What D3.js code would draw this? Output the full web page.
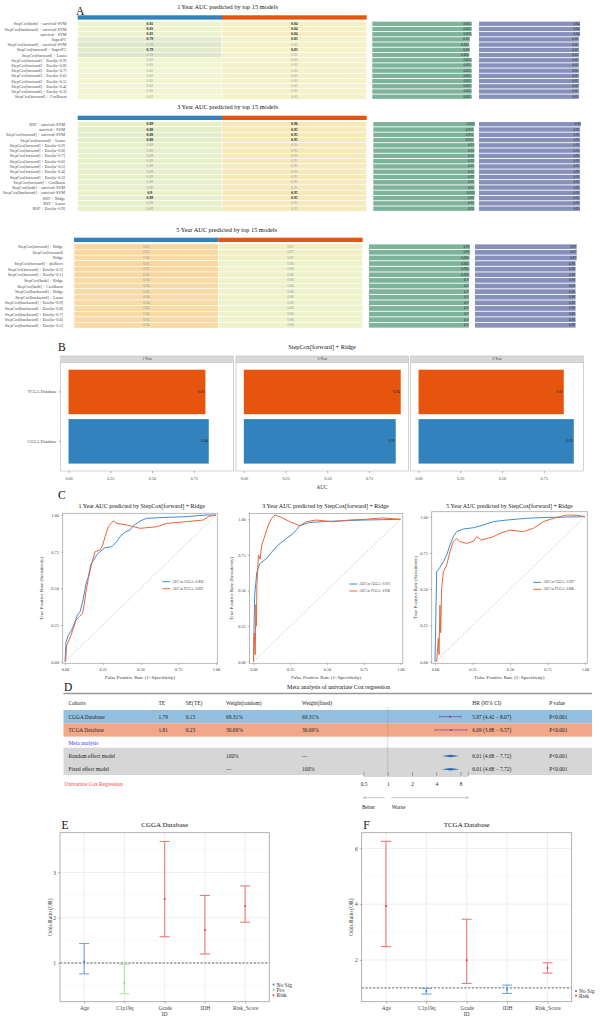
<!DOCTYPE html>
<html>
<head>
<meta charset="utf-8">
<script src="https://cdn.jsdelivr.net/npm/d3@7/dist/d3.min.js"></script>
<style>
html,body{margin:0;padding:0;background:#fff;}
svg{display:block;}
</style>
</head>
<body>
<svg id="chart" width="600" height="1019"></svg>
<script>
// ================= DATA =================
// Panel A
const models1Y = ["StepCox[both] + survival-SVM","StepCox[backward] + survival-SVM","survival - SVM","SuperPC",
  "StepCox[forward] + survival-SVM","StepCox[forward] + SuperPC","StepCox[forward] + Lasso",
  "StepCox[forward] + Enet[α=0.9]","StepCox[forward] + Enet[α=0.8]","StepCox[forward] + Enet[α=0.7]",
  "StepCox[forward] + Enet[α=0.6]","StepCox[forward] + Enet[α=0.5]","StepCox[forward] + Enet[α=0.4]",
  "StepCox[forward] + Enet[α=0.3]","StepCox[forward] + CoxBoost"];
const cgga1Y = [0.81,0.81,0.81,0.79,0.78,0.79,0.78,0.82,0.82,0.82,0.82,0.82,0.82,0.82,0.82];
const tcga1Y = [0.84,0.84,0.84,0.83,0.83,0.83,0.83,0.83,0.83,0.83,0.83,0.83,0.83,0.83,0.83];
const mean1Y = [0.825,0.825,0.825,0.81,0.805,0.81,0.805,0.825,0.825,0.825,0.825,0.825,0.825,0.825,0.825];
const bold1Y = [0,1,2,3,5];

const models3Y = ["RSF + survival-SVM","survival - SVM","StepCox[forward] + survival-SVM","StepCox[forward] + Lasso",
  "StepCox[forward] + Enet[α=0.9]","StepCox[forward] + Enet[α=0.8]","StepCox[forward] + Enet[α=0.7]",
  "StepCox[forward] + Enet[α=0.6]","StepCox[forward] + Enet[α=0.5]","StepCox[forward] + Enet[α=0.4]",
  "StepCox[forward] + Enet[α=0.3]","StepCox[forward] + CoxBoost","StepCox[both] + survival-SVM",
  "StepCox[backward] + survival-SVM","RSF + Ridge","RSF + Lasso","RSF + Enet[α=0.9]"];
const cgga3Y = [0.89,0.88,0.88,0.88,0.89,0.89,0.89,0.89,0.89,0.89,0.89,0.89,0.89,0.9,0.89,0.89,0.89];
const tcga3Y = [0.96,0.95,0.95,0.95,0.95,0.95,0.95,0.95,0.95,0.95,0.95,0.95,0.95,0.95,0.95,0.95,0.95];
const mean3Y = [0.925,0.915,0.915,0.915,0.92,0.92,0.92,0.92,0.92,0.92,0.92,0.92,0.92,0.925,0.92,0.92,0.92];
const bold3Y = [0,1,2,3,13,14];

const models5Y = ["StepCox[forward] + Ridge","StepCox[forward]","Ridge","StepCox[forward] + plsRcox",
  "StepCox[forward] + Enet[α=0.2]","StepCox[forward] + Enet[α=0.1]","StepCox[both] + Ridge",
  "StepCox[both] + CoxBoost","StepCox[backward] + Ridge","StepCox[backward] + Lasso",
  "StepCox[backward] + Enet[α=0.9]","StepCox[backward] + Enet[α=0.8]","StepCox[backward] + Enet[α=0.7]",
  "StepCox[backward] + Enet[α=0.6]","StepCox[backward] + Enet[α=0.5]"];
const cgga5Y = [0.95,0.95,0.94,0.95,0.95,0.95,0.94,0.94,0.94,0.94,0.94,0.94,0.94,0.94,0.94];
const tcga5Y = [0.87,0.87,0.87,0.86,0.86,0.86,0.86,0.86,0.86,0.86,0.86,0.86,0.86,0.86,0.86];
const mean5Y = [0.91,0.91,0.905,0.905,0.905,0.905,0.9,0.9,0.9,0.9,0.9,0.9,0.9,0.9,0.9];
const bold5Y = [];

// Panel B
const bYears = ["1-Year","3-Year","5-Year"];
const bCohorts = ["TCGA Database","CGGA Database"];
const bTCGA = [0.82,0.94,0.87];
const bCGGA = [0.84,0.91,0.93];
const bTicks = [0,0.25,0.5,0.75];

// Panel C (ROC points: [FPR, TPR])
const rocTitles = ["1 Year AUC predicted by StepCox[forward] + Ridge","3 Year AUC predicted by StepCox[forward] + Ridge","5 Year AUC predicted by StepCox[forward] + Ridge"];
const rocCGGA1 = [[0,0],[0.007,0.136],[0.022,0.18],[0.044,0.216],[0.066,0.27],[0.082,0.318],[0.1,0.34],[0.121,0.43],[0.139,0.53],[0.155,0.58],[0.17,0.66],[0.188,0.69],[0.21,0.727],[0.232,0.75],[0.265,0.777],[0.31,0.784],[0.342,0.818],[0.364,0.852],[0.397,0.882],[0.43,0.898],[0.453,0.927],[0.497,0.959],[0.54,0.977],[0.63,0.982],[0.806,0.989],[0.94,1],[1,1]];
const rocTCGA1 = [[0.004,0],[0.011,0.114],[0.022,0.136],[0.04,0.18],[0.055,0.227],[0.073,0.284],[0.095,0.307],[0.117,0.33],[0.126,0.386],[0.139,0.477],[0.155,0.568],[0.177,0.67],[0.199,0.75],[0.232,0.76],[0.25,0.795],[0.265,0.852],[0.287,0.92],[0.32,0.961],[0.342,0.943],[0.408,0.932],[0.497,0.909],[0.607,0.92],[0.673,0.943],[0.806,0.955],[0.916,0.966],[0.949,0.989],[1,1]];
const rocCGGA3 = [[0,0],[0.003,0.2],[0.008,0.468],[0.023,0.63],[0.045,0.69],[0.09,0.726],[0.124,0.77],[0.168,0.82],[0.225,0.866],[0.27,0.9],[0.315,0.955],[0.382,0.978],[0.539,0.987],[0.764,0.995],[1,1]];
const rocTCGA3 = [[0,0],[0.005,0.2],[0.012,0.05],[0.016,0.4],[0.02,0.25],[0.023,0.54],[0.034,0.75],[0.045,0.72],[0.056,0.82],[0.079,0.89],[0.101,0.96],[0.124,1.007],[0.146,1.03],[0.18,1.018],[0.247,0.983],[0.315,0.955],[0.36,0.983],[0.427,0.995],[0.539,0.983],[0.652,0.995],[0.764,1],[0.876,1.01],[1,1]];
const rocCGGA5 = [[0,0],[0.002,0.115],[0.007,0.39],[0.011,0.62],[0.029,0.644],[0.056,0.69],[0.078,0.736],[0.1,0.805],[0.122,0.862],[0.144,0.897],[0.189,0.915],[0.256,0.924],[0.322,0.943],[0.389,0.966],[0.478,0.977],[0.611,0.989],[0.744,0.995],[1,1]];
const rocTCGA5 = [[0.011,0],[0.022,0.16],[0.027,0.05],[0.033,0.39],[0.038,0.2],[0.044,0.5],[0.056,0.62],[0.078,0.667],[0.1,0.76],[0.122,0.828],[0.144,0.85],[0.167,0.828],[0.211,0.816],[0.256,0.83],[0.278,0.862],[0.311,0.839],[0.389,0.862],[0.433,0.885],[0.5,0.908],[0.589,0.897],[0.656,0.92],[0.722,0.966],[0.789,0.989],[0.878,1.011],[0.944,1.01],[1,1]];
const rocAUC_CGGA = ["0.836","0.911","0.927"];
const rocAUC_TCGA = ["0.823","0.936","0.866"];
const rocTicks = [0,0.25,0.5,0.75,1];

// Panel D
const dCols = ["Cohorts","TE","SE(TE)","Weight(random)","Weight(fixed)","HR (95% CI)","P value"];
const dCohorts = ["CGGA Database","TCGA Database"];
const dTE = ["1.79","1.81"];
const dSE = ["0.15","0.23"];
const dWRandom = ["69.31%","30.69%"];
const dWFixed = ["69.31%","30.69%"];
const dHR = [5.97,6.09];
const dLower = [4.42,3.88];
const dUpper = [8.07,9.57];
const dP = ["P<0.001","P<0.001"];
const dModels = ["Random effect model","Fixed effect model"];
const dModelWR = ["100%","—"];
const dModelWF = ["—","100%"];
const dModelHR = [6.01,6.01];
const dModelLo = [4.68,4.68];
const dModelHi = [7.72,7.72];
const dTicks = [0.5,1,2,4,8];

// Panels E / F
const orVars = ["Age","C1p19q","Grade","IDH","Risk_Score"];
const eOR = [1.03,0.56,2.41,1.73,2.26];
const eLow = [0.76,0.32,1.58,1.2,1.9];
const eHigh = [1.43,0.97,3.68,2.49,2.7];
const eGroup = ["No Sig","Pro","Risk","Risk","Risk"];
const fOR = [3.94,0.89,1.99,0.95,1.71];
const fLow = [2.48,0.78,1.16,0.8,1.53];
const fHigh = [6.25,0.98,3.46,1.1,1.9];
const fGroup = ["Risk","No Sig","Risk","No Sig","Risk"];

// ================= DRAWING =================
const SERIF = '"Liberation Serif","Times New Roman",Times,serif';
const svg = d3.select("#chart").attr("font-family", SERIF);

function T(g, x, y, s, size, o = {}) {
  const t = g.append("text").attr("x", x).attr("y", y).text(s)
    .attr("font-size", size).attr("text-anchor", o.anchor || "start")
    .attr("dominant-baseline", "central").attr("fill", o.fill || "#222");
  if (o.weight) t.attr("font-weight", o.weight);
  if (o.rotate) t.attr("transform", `rotate(${o.rotate},${x},${y})`);
  return t;
}

// ---------- Panel A ----------
T(svg, 76, 11, "A", 11.5, {fill:"#111"});
function heatPanel(c) {
  const g = svg.append("g");
  const n = c.labels.length;
  const y = d3.scaleBand().domain(d3.range(n)).range([c.top, c.bottom]);
  const bw = y.bandwidth();
  T(g, c.titleX, c.titleY, c.title, 6.3, {anchor:"middle", fill:"#111"});
  const hx = c.hx;
  g.append("rect").attr("x", hx[0]).attr("y", c.headY).attr("width", hx[1]-hx[0]).attr("height", 4.3).attr("fill", "#3182bd");
  g.append("rect").attr("x", hx[1]).attr("y", c.headY).attr("width", hx[2]-hx[1]).attr("height", 4.3).attr("fill", "#e6550d");
  [c.cgga, c.tcga].forEach((vals, ci) => {
    g.append("g").selectAll("rect").data(vals).join("rect")
      .attr("x", hx[ci]).attr("y", (d,i) => y(i)).attr("width", hx[ci+1]-hx[ci]).attr("height", bw)
      .attr("fill", d => c.color(d)).attr("stroke", "#fff").attr("stroke-width", 0.5);
    g.append("g").selectAll("text").data(vals).join("text")
      .attr("x", (hx[ci]+hx[ci+1])/2).attr("y", (d,i) => y(i)+bw/2)
      .attr("text-anchor","middle").attr("dominant-baseline","central")
      .attr("font-size", 3.7)
      .attr("fill", (d,i) => c.bold.includes(i) ? "#222" : "#999")
      .attr("font-weight", (d,i) => c.bold.includes(i) ? "bold" : "normal")
      .text(d => String(d));
  });
  g.append("g").selectAll("text").data(c.labels).join("text")
    .attr("x", c.labelX).attr("y", (d,i) => y(i)+bw/2)
    .attr("text-anchor","end").attr("dominant-baseline","central")
    .attr("font-size", 4.2).attr("fill", "#444").text(d => d);
  // green bars (mean) and purple bars (TCGA)
  [[c.mean, c.gx, "#7db29b"], [c.tcga, c.px, "#8790ba"]].forEach(([vals, rx, col]) => {
    const xs = d3.scaleLinear().domain([0, d3.max(vals)]).range(rx);
    g.append("g").selectAll("rect").data(vals).join("rect")
      .attr("x", rx[0]).attr("y", (d,i) => y(i)+0.45).attr("width", d => xs(d)-rx[0])
      .attr("height", bw-0.9).attr("fill", col);
    g.append("g").selectAll("text").data(vals).join("text")
      .attr("x", d => xs(d)-0.4).attr("y", (d,i) => y(i)+bw/2)
      .attr("text-anchor","end").attr("dominant-baseline","central")
      .attr("font-size", 3.5).attr("fill", "#2a2a2a").text(d => String(d));
  });
}
heatPanel({labels:models1Y, cgga:cgga1Y, tcga:tcga1Y, mean:mean1Y, bold:bold1Y,
  title:"1 Year AUC predicted by top 15 models", titleX:227.5, titleY:6.5, headY:15.3,
  top:21.2, bottom:99.3, labelX:66.5, hx:[77.7,222,366.7], gx:[372.3,471.7], px:[479,580],
  color:d3.scaleLinear().domain([0.78,0.82,0.84]).range(["#dfe7cb","#f1f5d1","#f7efc3"])});
heatPanel({labels:models3Y, cgga:cgga3Y, tcga:tcga3Y, mean:mean3Y, bold:bold3Y,
  title:"3 Year AUC predicted by top 15 models", titleX:227.5, titleY:106.7, headY:115.7,
  top:121.6, bottom:211.3, labelX:65, hx:[77.7,222,366.7], gx:[373.3,475], px:[479,581],
  color:d3.scaleLinear().domain([0.88,0.92,0.96]).range(["#e3edca","#f1f3cc","#f7e7b5"])});
heatPanel({labels:models5Y, cgga:cgga5Y, tcga:tcga5Y, mean:mean5Y, bold:bold5Y,
  title:"5 Year AUC predicted by top 15 models", titleX:226.7, titleY:229.3, headY:237.7,
  top:243.9, bottom:328.1, labelX:63, hx:[74,218.3,362.7], gx:[369,470], px:[475,576.7],
  color:d3.scaleLinear().domain([0.86,0.95]).range(["#eef3cb","#f8d7a1"])});

// ---------- Panel B ----------
{
  const g = svg.append("g");
  T(g, 58, 347, "B", 11.5, {fill:"#111"});
  T(g, 322, 346.7, "StepCox[forward] + Ridge", 6.3, {anchor:"middle", fill:"#111"});
  const facetX = [60.7, 236, 410.7], fw = 172.6, stripY = 356, pTop = 362.3, pBot = 471;
  const yb = d3.scaleBand().domain(bCohorts).range([pTop, pBot]).paddingInner(0.1).paddingOuter(0.15);
  bYears.forEach((yr, fi) => {
    const x0 = facetX[fi];
    const xs = d3.scaleLinear().domain([-0.047, 0.987]).range([x0, x0+fw]);
    g.append("rect").attr("x", x0).attr("y", stripY).attr("width", fw).attr("height", pTop-stripY)
      .attr("fill", "#d9d9d9").attr("stroke", "#b5b5b5").attr("stroke-width", 0.5);
    T(g, x0+fw/2, stripY+(pTop-stripY)/2, yr, 3.6, {anchor:"middle", fill:"#333"});
    g.append("rect").attr("x", x0).attr("y", pTop).attr("width", fw).attr("height", pBot-pTop)
      .attr("fill", "#fff").attr("stroke", "#b5b5b5").attr("stroke-width", 0.6);
    const vals = [{k:"TCGA Database", v:bTCGA[fi], c:"#e6550d"}, {k:"CGGA Database", v:bCGGA[fi], c:"#3182bd"}];
    g.append("g").selectAll("rect").data(vals).join("rect")
      .attr("x", xs(0)).attr("y", d => yb(d.k)).attr("width", d => xs(d.v)-xs(0))
      .attr("height", yb.bandwidth()).attr("fill", d => d.c);
    g.append("g").selectAll("text").data(vals).join("text")
      .attr("x", d => xs(d.v)-0.8).attr("y", d => yb(d.k)+yb.bandwidth()/2)
      .attr("text-anchor","end").attr("dominant-baseline","central")
      .attr("font-size", 3.8).attr("fill", "#222").text(d => d.v.toFixed(2));
    const ax = g.append("g").attr("transform", `translate(0,${pBot})`)
      .call(d3.axisBottom(xs).tickValues(bTicks).tickFormat(d3.format(".2f")).tickSize(2).tickPadding(4));
    ax.attr("font-family", SERIF).attr("font-size", 4.2);
    ax.select(".domain").remove();
    ax.selectAll("line").attr("stroke", "#666").attr("stroke-width", 0.5);
    ax.selectAll("text").attr("fill", "#444");
  });
  const ay = g.append("g").attr("transform", `translate(${facetX[0]},0)`)
    .call(d3.axisLeft(yb).tickSize(2).tickPadding(2));
  ay.attr("font-family", SERIF).attr("font-size", 4.4);
  ay.select(".domain").remove();
  ay.selectAll("line").attr("stroke", "#666").attr("stroke-width", 0.5);
  ay.selectAll("text").attr("fill", "#444");
  T(g, 322, 486.5, "AUC", 5.2, {anchor:"middle", fill:"#333"});
}

// ---------- Panel C ----------
{
  const g = svg.append("g");
  T(g, 58, 495, "C", 11.5, {fill:"#111"});
  const cfgs = [
    {xr:[65,216], yr:[661.7,515], box:[62.7,513.3,217.3,663.3], tx:141.7, ylx:41.7, lx:162.3, ly:581.7, cg:rocCGGA1, tc:rocTCGA1},
    {xr:[253.5,400.5], yr:[661.7,519.3], box:[249.5,513.5,402.8,663.3], tx:325.5, ylx:231.7, lx:349.3, ly:584, cg:rocCGGA3, tc:rocTCGA3},
    {xr:[435,585], yr:[661.7,516.7], box:[431.7,511.7,587.3,663.3], tx:509.5, ylx:415, lx:533.3, ly:582.3, cg:rocCGGA5, tc:rocTCGA5}
  ];
  cfgs.forEach((c, i) => {
    const x = d3.scaleLinear().domain([0,1]).range(c.xr);
    const y = d3.scaleLinear().domain([0,1]).range(c.yr);
    const gg = g.append("g");
    gg.append("rect").attr("x", c.box[0]).attr("y", c.box[1]).attr("width", c.box[2]-c.box[0]).attr("height", c.box[3]-c.box[1])
      .attr("fill", "#fff").attr("stroke", "#a8a8a8").attr("stroke-width", 0.8);
    gg.append("line").attr("x1", x(0)).attr("y1", y(0)).attr("x2", x(1)).attr("y2", y(1))
      .attr("stroke", "#b0b0b0").attr("stroke-width", 0.6).attr("stroke-dasharray", "2,1.5");
    const line = d3.line().x(d => x(d[0])).y(d => y(d[1]));
    gg.append("path").datum(c.cg).attr("d", line).attr("fill","none").attr("stroke","#3e8ed6").attr("stroke-width",1);
    gg.append("path").datum(c.tc).attr("d", line).attr("fill","none").attr("stroke","#f0643a").attr("stroke-width",1);
    const ax = gg.append("g").attr("transform", `translate(0,${c.box[3]})`)
      .call(d3.axisBottom(x).tickValues(rocTicks).tickFormat(d3.format(".2f")).tickSize(1.8).tickPadding(2.5));
    const ay = gg.append("g").attr("transform", `translate(${c.box[0]},0)`)
      .call(d3.axisLeft(y).tickValues(rocTicks).tickFormat(d3.format(".2f")).tickSize(1.8).tickPadding(2));
    [ax, ay].forEach(a => {
      a.attr("font-family", SERIF).attr("font-size", 4.3);
      a.select(".domain").remove();
      a.selectAll("line").attr("stroke", "#777").attr("stroke-width", 0.5);
      a.selectAll("text").attr("fill", "#444");
    });
    T(gg, c.tx, 506, rocTitles[i], 6, {anchor:"middle", fill:"#111"});
    T(gg, (c.box[0]+c.box[2])/2, 677.7, "False Positive Rate (1−Specificity)", 5, {anchor:"middle", fill:"#333"});
    T(gg, c.ylx, (c.box[1]+c.box[3])/2, "True Positive Rate (Sensitivity)", 5, {anchor:"middle", fill:"#333", rotate:-90});
    [["#3e8ed6", "AUC in CGGA : " + rocAUC_CGGA[i]], ["#f0643a", "AUC in TCGA : " + rocAUC_TCGA[i]]].forEach(([col, lab], k) => {
      const yy = c.ly + k*7;
      gg.append("line").attr("x1", c.lx).attr("x2", c.lx+8).attr("y1", yy).attr("y2", yy).attr("stroke", col).attr("stroke-width", 1);
      T(gg, c.lx+10, yy, lab, 3.4, {fill:"#333"});
    });
  });
}

// ---------- Panel D ----------
{
  const g = svg.append("g");
  T(g, 64, 687, "D", 11.5, {fill:"#111"});
  T(g, 338.5, 686.7, "Meta analysis of univariate Cox regression", 6, {anchor:"middle", fill:"#111"});
  const L = 63.5, R = 592;
  g.append("line").attr("x1", L).attr("x2", R).attr("y1", 693.5).attr("y2", 693.5).attr("stroke", "#999").attr("stroke-width", 1.3);
  const colX = [68.5, 158.5, 185.8, 226, 302, 472.3, 549.2];
  const fs = 5.4;
  dCols.forEach((h, i) => T(g, colX[i], 702.7, h, fs, {fill:"#222"}));
  const rowBg = ["#93c0e0", "#f2a888"];
  const rowTop = [710, 723.3], rowH = 13.3;
  const hx = d3.scaleLog().base(2).domain([0.5, 8]).range([363.5, 460.5]);
  dCohorts.forEach((name, i) => {
    g.append("rect").attr("x", L).attr("y", rowTop[i]).attr("width", R-L).attr("height", rowH).attr("fill", rowBg[i]);
  });
  g.append("rect").attr("x", L).attr("y", 747.7).attr("width", R-L).attr("height", 27.3).attr("fill", "#d6d6d6");
  // dashed null line
  g.append("line").attr("x1", hx(1)).attr("x2", hx(1)).attr("y1", 707).attr("y2", 775)
    .attr("stroke", "#888").attr("stroke-width", 0.6).attr("stroke-dasharray", "1.2,1");
  dCohorts.forEach((name, i) => {
    const yy = rowTop[i] + rowH/2;
    [name, dTE[i], dSE[i], dWRandom[i], dWFixed[i]].forEach((s, k) => T(g, colX[k], yy, s, fs));
    T(g, colX[5], yy, `${dHR[i].toFixed(2)} (${dLower[i].toFixed(2)} − ${dUpper[i].toFixed(2)})`, fs);
    T(g, colX[6], yy, dP[i], fs);
    g.append("line").attr("x1", hx(dLower[i])).attr("x2", hx(dUpper[i])).attr("y1", yy).attr("y2", yy).attr("stroke", "#8447a6").attr("stroke-width", 0.8);
    [dLower[i], dUpper[i]].forEach(v => g.append("line").attr("x1", hx(v)).attr("x2", hx(v)).attr("y1", yy-1.2).attr("y2", yy+1.2).attr("stroke", "#8447a6").attr("stroke-width", 0.6));
    g.append("rect").attr("x", hx(dHR[i])-0.7).attr("y", yy-0.7).attr("width", 1.4).attr("height", 1.4).attr("fill", "#5a2a80");
  });
  T(g, 68.5, 742.7, "Meta analysis", fs, {fill:"#3c3cff"});
  const mY = [756, 769.3];
  dModels.forEach((name, i) => {
    const yy = mY[i];
    T(g, colX[0], yy, name, fs);
    T(g, colX[3], yy, dModelWR[i], fs);
    T(g, colX[4], yy, dModelWF[i], fs);
    T(g, colX[5], yy, `${dModelHR[i].toFixed(2)} (${dModelLo[i].toFixed(2)} − ${dModelHi[i].toFixed(2)})`, fs);
    T(g, colX[6], yy, "P<0.001", fs);
    const a = hx(dModelLo[i]), b = hx(dModelHi[i]), m = hx(dModelHR[i]);
    g.append("path").attr("d", `M${a},${yy} L${m},${yy-1.3} L${b},${yy} L${m},${yy+1.3} Z`).attr("fill", "#2e6db6");
  });
  T(g, 64.6, 784, "Univariate Cox Regression", fs, {fill:"#ff3b3b"});
  // axis
  const ax = g.append("g").attr("transform", "translate(0,776)")
    .call(d3.axisBottom(hx).tickValues(dTicks).tickFormat(d => String(d)).tickSize(-4).tickPadding(6));
  ax.attr("font-family", SERIF).attr("font-size", fs);
  ax.select(".domain").remove();
  ax.selectAll("line").attr("stroke", "#777").attr("stroke-width", 0.6);
  ax.selectAll("text").attr("fill", "#222");
  g.append("line").attr("x1", hx(0.5)).attr("x2", hx(10)).attr("y1", 776).attr("y2", 776).attr("stroke", "#777").attr("stroke-width", 0.6);
  g.append("line").attr("x1", hx(10)).attr("x2", hx(10)).attr("y1", 772).attr("y2", 776).attr("stroke", "#777").attr("stroke-width", 0.6);
  const defs = svg.append("defs");
  defs.append("marker").attr("id", "arr").attr("viewBox", "0 0 10 10").attr("refX", 9).attr("refY", 5)
    .attr("markerWidth", 4).attr("markerHeight", 4).attr("orient", "auto-start-reverse")
    .append("path").attr("d", "M0,0 L10,5 L0,10").attr("fill", "none").attr("stroke", "#999").attr("stroke-width", 1.5);
  g.append("line").attr("x1", 384.6).attr("x2", hx(0.5)).attr("y1", 797.7).attr("y2", 797.7).attr("stroke", "#aaa").attr("stroke-width", 0.7).attr("marker-end", "url(#arr)");
  g.append("line").attr("x1", 391.5).attr("x2", hx(10)).attr("y1", 797.7).attr("y2", 797.7).attr("stroke", "#aaa").attr("stroke-width", 0.7).attr("marker-end", "url(#arr)");
  T(g, 368.5, 806.7, "Better", fs, {anchor:"middle"});
  T(g, 398.5, 806.7, "Worse", fs, {anchor:"middle"});
}

// ---------- Panels E / F ----------
function orPanel(c) {
  const g = svg.append("g");
  const groupCol = {"No Sig":"#3d85d6", "Pro":"#8fd18f", "Risk":"#ea4848"};
  const barCol = {"No Sig":"#6fa6e3", "Pro":"#b4e0b4", "Risk":"#f07a7a"};
  const x = d3.scalePoint().domain(orVars).range([c.x0, c.x1]).padding(0.6);
  const y = d3.scaleLinear().domain(c.ydom).range([c.y1, c.y0]);
  T(g, c.x0+1.5, 825, c.letter, 11.5, {fill:"#111"});
  T(g, (c.x0+c.x1)/2, 825, c.title, 7, {anchor:"middle", fill:"#111"});
  g.append("rect").attr("x", c.x0).attr("y", c.y0).attr("width", c.x1-c.x0).attr("height", c.y1-c.y0).attr("fill", "#fff");
  c.minor.forEach(v => g.append("line").attr("x1", c.x0).attr("x2", c.x1).attr("y1", y(v)).attr("y2", y(v)).attr("stroke", "#f2f2f2").attr("stroke-width", 0.5));
  c.ticks.forEach(v => g.append("line").attr("x1", c.x0).attr("x2", c.x1).attr("y1", y(v)).attr("y2", y(v)).attr("stroke", "#e6e6e6").attr("stroke-width", 0.7));
  orVars.forEach(v => g.append("line").attr("x1", x(v)).attr("x2", x(v)).attr("y1", c.y0).attr("y2", c.y1).attr("stroke", "#e6e6e6").attr("stroke-width", 0.7));
  g.append("line").attr("x1", c.x0).attr("x2", c.x1).attr("y1", y(1)).attr("y2", y(1))
    .attr("stroke", "#555").attr("stroke-width", 0.9).attr("stroke-dasharray", "2.2,1.6");
  const data = orVars.map((v, i) => ({v, or:c.or[i], lo:c.lo[i], hi:c.hi[i], grp:c.grp[i]}));
  data.forEach(d => {
    const cx = x(d.v), col = barCol[d.grp];
    g.append("line").attr("x1", cx).attr("x2", cx).attr("y1", y(d.lo)).attr("y2", y(d.hi)).attr("stroke", col).attr("stroke-width", 1.1);
    [d.lo, d.hi].forEach(v => g.append("line").attr("x1", cx-5).attr("x2", cx+5).attr("y1", y(v)).attr("y2", y(v)).attr("stroke", col).attr("stroke-width", 1.1));
    g.append("rect").attr("x", cx-0.9).attr("y", y(d.or)-0.9).attr("width", 1.8).attr("height", 1.8).attr("fill", groupCol[d.grp]);
  });
  g.append("rect").attr("x", c.x0).attr("y", c.y0).attr("width", c.x1-c.x0).attr("height", c.y1-c.y0)
    .attr("fill", "none").attr("stroke", "#a0a0a0").attr("stroke-width", 0.8);
  const ax = g.append("g").attr("transform", `translate(0,${c.y1})`).call(d3.axisBottom(x).tickSize(2).tickPadding(2.5));
  const ay = g.append("g").attr("transform", `translate(${c.x0},0)`).call(d3.axisLeft(y).tickValues(c.ticks).tickFormat(d3.format("d")).tickSize(2).tickPadding(2));
  [ax, ay].forEach(a => {
    a.attr("font-family", SERIF).attr("font-size", 5.5);
    a.select(".domain").remove();
    a.selectAll("line").attr("stroke", "#777").attr("stroke-width", 0.5);
    a.selectAll("text").attr("fill", "#444");
  });
  T(g, (c.x0+c.x1)/2, 1014, "ID", 5.5, {anchor:"middle", fill:"#333"});
  T(g, c.ylx, (c.y0+c.y1)/2, "Odds Ratio (OR)", 5.5, {anchor:"middle", fill:"#333", rotate:-90});
  c.legend.forEach((grp, k) => {
    const yy = c.legY + k*c.legStep;
    g.append("rect").attr("x", c.legX-0.9).attr("y", yy-0.9).attr("width", 1.8).attr("height", 1.8).attr("fill", groupCol[grp]);
    T(g, c.legX+3, yy, grp, 5.5, {fill:"#333"});
  });
}
orPanel({letter:"E", title:"CGGA Database", x0:60, x1:269.3, y0:832.7, y1:1001.7, ydom:[0.146,3.874],
  ticks:[1,2,3], minor:[0.5,1.5,2.5,3.5], or:eOR, lo:eLow, hi:eHigh, grp:eGroup, ylx:50,
  legend:["No Sig","Pro","Risk"], legX:273.5, legY:984.5, legStep:5.4});
orPanel({letter:"F", title:"TCGA Database", x0:361.7, x1:571.7, y0:832.7, y1:1001.7, ydom:[0.505,6.56],
  ticks:[2,4,6], minor:[1,3,5], or:fOR, lo:fLow, hi:fHigh, grp:fGroup, ylx:350.7,
  legend:["No Sig","Risk"], legX:576, legY:991, legStep:4.6});
</script>
</body>
</html>
